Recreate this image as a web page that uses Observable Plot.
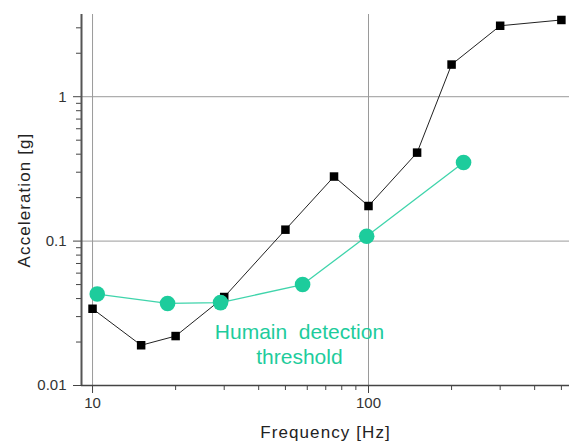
<!DOCTYPE html>
<html>
<head>
<meta charset="utf-8">
<script src="https://cdn.jsdelivr.net/npm/d3@7"></script>
<script src="https://cdn.jsdelivr.net/npm/@observablehq/plot@0.6"></script>
<style>
  html, body { margin: 0; padding: 0; background: #fff; }
  svg { font-family: "Liberation Sans", Arial, sans-serif; }
</style>
</head>
<body>
<div id="chart"></div>
<script>
// Structural response (black squares)
const freqStruct = [10, 15, 20, 30, 50, 75, 100, 150, 200, 300, 500];
const accStruct  = [0.034, 0.019, 0.022, 0.041, 0.12, 0.28, 0.175, 0.41, 1.67, 3.1, 3.4];

// Human detection threshold (teal circles)
const freqHuman = [10.4, 18.7, 29.1, 57.7, 98.5, 221];
const accHuman  = [0.043, 0.037, 0.0375, 0.050, 0.108, 0.35];

// Ticks
const xMajorTicks = [10, 100];
const xMinorTicks = [20, 30, 40, 50, 60, 70, 80, 90, 200, 300, 400, 500];
const yMajorTicks = [0.01, 0.1, 1];
const yMinorTicks = [0.02, 0.03, 0.04, 0.05, 0.06, 0.07, 0.08, 0.09,
                     0.2, 0.3, 0.4, 0.5, 0.6, 0.7, 0.8, 0.9, 2, 3];
const xGrid = [10, 100];
const yGrid = [0.1, 1];

const annotation = "Humain\u00a0 detection\nthreshold";
const yLabel = "Acceleration [g]";
const xLabel = "Frequency [Hz]";

const structData = freqStruct.map((f, i) => ({f, a: accStruct[i]}));
const humanData = freqHuman.map((f, i) => ({f, a: accHuman[i]}));

const teal = "#1dcc9c";
const xDomain = [9.12, 535];
const yDomain = [0.01, 3.71];

const chart = Plot.plot({
  width: 569,
  height: 446,
  marginLeft: 81,
  marginRight: 0,
  marginTop: 14,
  marginBottom: 61,
  style: {fontFamily: "Liberation Sans, Arial, sans-serif", fontSize: "15px", color: "#333", background: "#fff"},
  x: {type: "log", domain: xDomain},
  y: {type: "log", domain: yDomain},
  marks: [
    Plot.ruleX(xGrid, {stroke: "#9a9a9a", strokeWidth: 1}),
    Plot.ruleY(yGrid, {stroke: "#9a9a9a", strokeWidth: 1}),
    Plot.axisX({ticks: xMajorTicks, tickSize: 8, tickPadding: 4, tickFormat: d => String(d), label: null, stroke: "#444", fontSize: 15}),
    Plot.axisX({ticks: xMinorTicks, tickSize: 5, tickFormat: () => "", label: null, stroke: "#444"}),
    Plot.axisY({ticks: yMajorTicks, tickSize: 8, tickPadding: 7, tickFormat: d => String(d), label: null, stroke: "#444", fontSize: 15}),
    Plot.axisY({ticks: yMinorTicks, tickSize: 5, tickFormat: () => "", label: null, stroke: "#444"}),
    Plot.ruleX([xDomain[0]], {stroke: "#555", strokeWidth: 2}),
    Plot.ruleY([yDomain[0]], {stroke: "#444", strokeWidth: 1.5}),
    Plot.line(structData, {x: "f", y: "a", stroke: "#222", strokeWidth: 1}),
    Plot.dot(structData, {x: "f", y: "a", symbol: "square", r: 4.8, fill: "#000", stroke: "none"}),
    Plot.line(humanData, {x: "f", y: "a", stroke: teal, strokeWidth: 1.3, strokeOpacity: 0.85}),
    Plot.dot(humanData, {x: "f", y: "a", r: 7.8, fill: teal, stroke: "none"}),
    Plot.text([annotation], {x: 56.2, y: 0.0196, text: d => d, fill: teal, fontSize: 21, lineHeight: 1.22, textAnchor: "middle", lineAnchor: "middle"}),
    Plot.text([yLabel], {frameAnchor: "left", dx: -57, rotate: -90, text: d => d, fill: "#222", fontSize: 17, textAnchor: "middle", lineAnchor: "middle"}),
    Plot.text([xLabel], {frameAnchor: "bottom", dy: 47, text: d => d, fill: "#222", fontSize: 17, textAnchor: "middle", lineAnchor: "middle"})
  ]
});
// The reference typeface is slightly wider: widen the axis titles a little
d3.select(chart).selectAll("text")
  .filter(function() { return this.textContent === yLabel || this.textContent === xLabel; })
  .style("letter-spacing", "1.1px");
document.getElementById("chart").appendChild(chart);
</script>
</body>
</html>
